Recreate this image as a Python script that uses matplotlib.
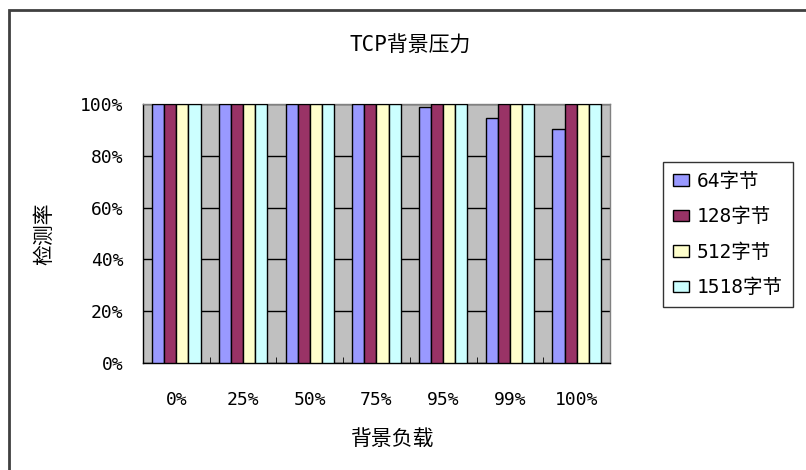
import numpy as np
import matplotlib.pyplot as plt
from matplotlib.patches import Rectangle

plt.rcParams['font.family'] = ['DejaVu Sans Mono', 'Noto Sans CJK SC']

loads = ['0%', '25%', '50%', '75%', '95%', '99%', '100%']
series = ['64字节', '128字节', '512字节', '1518字节']
rate_64 = [100, 100, 100, 100, 99, 94.5, 90.5]
rate_128 = [100, 100, 100, 100, 100, 100, 100]
rate_512 = [100, 100, 100, 100, 100, 100, 100]
rate_1518 = [100, 100, 100, 100, 100, 100, 100]
colors = ['#9999FF', '#993366', '#FFFFCC', '#CCFFFF']

fig = plt.figure(figsize=(8.06, 4.70), dpi=100)
ax = fig.add_axes([143 / 806, 1 - 363 / 470, 467 / 806, 259 / 470])

x = np.arange(len(loads))
width = 1 / 5.5
for i, (vals, name) in enumerate(zip([rate_64, rate_128, rate_512, rate_1518], series)):
    ax.bar(x + (i - 1.5) * width, vals, width, color=colors[i], edgecolor='black',
           linewidth=1, label=name, zorder=3)

ax.set_facecolor('#C0C0C0')
ax.set_xlim(-0.5, len(loads) - 0.5)
ax.set_ylim(0, 100)
ax.set_yticks(range(0, 101, 20))
ax.set_yticklabels([f'{v}%' for v in range(0, 101, 20)], fontsize=13)
ax.yaxis.grid(True, color='black', linewidth=1, zorder=1)
ax.set_axisbelow(True)
ax.set_xticks(x)
ax.set_xticklabels(loads, fontsize=13)
ax.set_xticks(np.arange(0.5, len(loads) - 0.5, 1), minor=True)
ax.tick_params(axis='x', which='major', length=0, pad=20)
ax.tick_params(axis='x', which='minor', direction='in', length=4, color='black')
ax.tick_params(axis='y', length=0, pad=14)
for s in ax.spines.values():
    s.set_color('#808080')
    s.set_linewidth(1)
ax.spines['left'].set_color('black')
ax.spines['bottom'].set_color('black')

fig.text(410 / 806, 1 - 46 / 470, 'TCP背景压力', fontsize=15, ha='center', va='center')
fig.text(393 / 806, 1 - 439 / 470, '背景负载', fontsize=15, ha='center', va='center')
fig.text(44 / 806, 1 - 234 / 470, '检测率', fontsize=15, ha='center', va='center',
         rotation=90)

leg = fig.legend(loc='upper left', bbox_to_anchor=(663 / 806, 1 - 162 / 470),
                 fontsize=14, frameon=True, fancybox=False, edgecolor='black',
                 handlelength=0.85, handleheight=0.55, handletextpad=0.4,
                 labelspacing=0.85, borderpad=0.5, borderaxespad=0)
leg.get_frame().set_linewidth(1)

fig.patches.append(Rectangle((9 / 806, -0.05), 1.1, 1 - 10 / 470 + 0.05,
                             transform=fig.transFigure, fill=False,
                             edgecolor='#404040', linewidth=2))

fig.savefig('out.png', dpi=100)
